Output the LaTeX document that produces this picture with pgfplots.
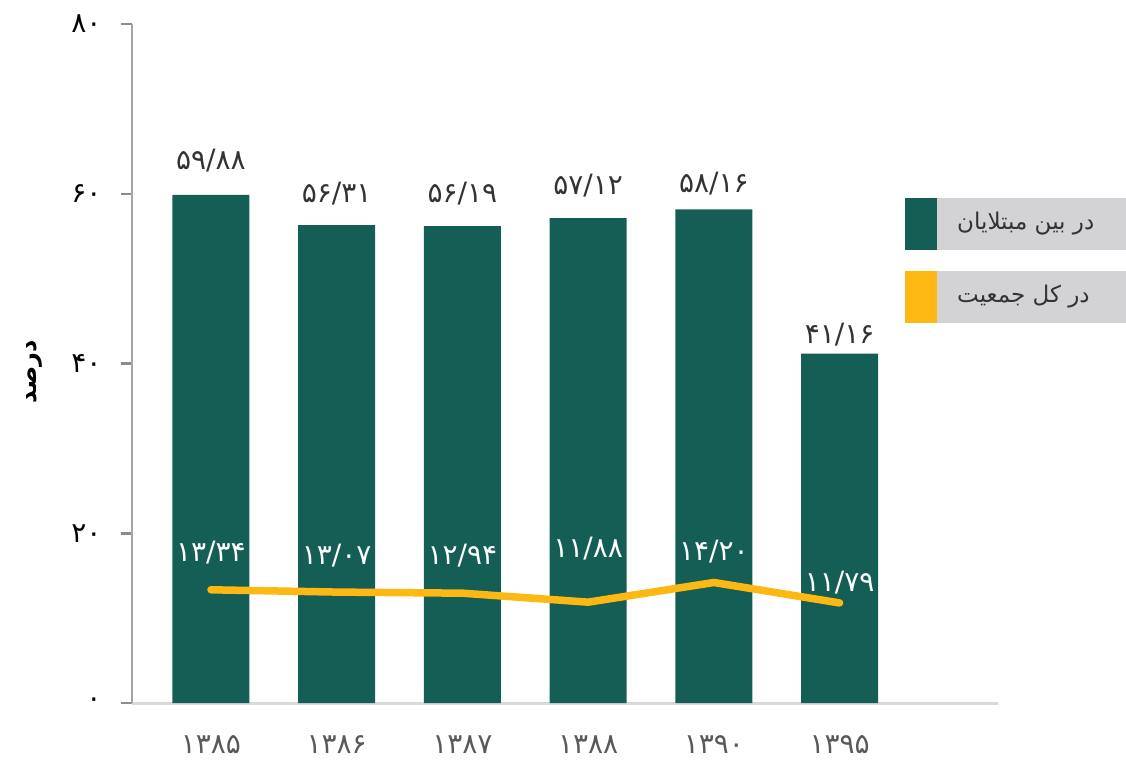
\documentclass[border=0pt]{standalone}
\usepackage{pgfplots}
\pgfplotsset{compat=1.18}
\usepackage{fontspec}
\TeXXeTstate=1
\newfontfamily\pfont[Script=Arabic]{DejaVu Sans}
\newfontfamily\pfontb[Script=Arabic]{DejaVu Sans Bold}
\definecolor{barc}{HTML}{155E56}
\definecolor{linec}{HTML}{FDB813}
\definecolor{legbg}{HTML}{D3D3D5}
\definecolor{labc}{HTML}{333333}
\definecolor{xlabc}{HTML}{595959}
\newcommand\numfont{\pfont\fontsize{28}{32}\selectfont}
\newcommand\tickfont{\pfont\fontsize{28}{32}\selectfont}
\newcommand\legfont{\pfont\fontsize{23}{27}\selectfont}
\begin{document}
\begin{tikzpicture}[x=1pt,y=1pt]
\begin{axis}[
  at={(132pt,-703pt)}, anchor=south west,
  scale only axis, width=866pt, height=679pt,
  xmin=-0.628, xmax=6.26, ymin=0, ymax=80,
  axis lines*=left,
  axis line style={-},
  x axis line style={draw=black!15, line width=3pt},
  y axis line style={draw=black!35, line width=2.5pt},
  xtick={0,1,2,3,4,5},
  xticklabels={۱۳۸۵,۱۳۸۶,۱۳۸۷,۱۳۸۸,۱۳۹۰,۱۳۹۵},
  xtick style={draw=none},
  xticklabel style={font=\tickfont, text=xlabc, yshift=-18pt},
  ytick={0,20,40,60,80},
  yticklabels={۰,۲۰,۴۰,۶۰,۸۰},
  tick align=outside,
  major tick length=11pt,
  ytick style={draw=black!45, line width=2.5pt},
  yticklabel style={font=\tickfont, text=black, xshift=-16pt},
  ylabel={\pfontb\fontsize{24}{28}\selectfont\beginR درصد\endR},
  every axis y label/.style={at={(axis description cs:0,0.5)}, xshift=-98pt, yshift=-8pt, rotate=90, anchor=center},
  clip=false,
]
% bars: در بین مبتلایان
\addplot[ybar, bar width=77pt, fill=barc, draw=none] coordinates {
  (0,59.88) (1,56.31) (2,56.19) (3,57.12) (4,58.16) (5,41.16)};
% line: در کل جمعیت
\addplot[linec, line width=7.5pt, line cap=round, line join=round, mark=none] coordinates {
  (0,13.34) (1,13.07) (2,12.94) (3,11.88) (4,14.20) (5,11.79)};
% bar value labels
\addplot[draw=none, mark=none, nodes near coords, point meta=explicit symbolic,
  every node near coord/.append style={anchor=center, font=\numfont, text=labc}] coordinates {
  (0,63.86) [۵۹/۸۸]
  (1,59.97) [۵۶/۳۱]
  (2,59.97) [۵۶/۱۹]
  (3,60.91) [۵۷/۱۲]
  (4,61.15) [۵۸/۱۶]
  (5,43.36) [۴۱/۱۶]};
% line value labels
\addplot[draw=none, mark=none, nodes near coords, point meta=explicit symbolic,
  every node near coord/.append style={anchor=center, font=\numfont, text=white}] coordinates {
  (0,17.67) [۱۳/۳۴]
  (1,17.32) [۱۳/۰۷]
  (2,17.32) [۱۲/۹۴]
  (3,18.14) [۱۱/۸۸]
  (4,17.79) [۱۴/۲۰]
  (5,14.14) [۱۱/۷۹]};
\end{axis}
% legend
\fill[legbg] (905,-198) rectangle (1126,-250);
\fill[barc] (905,-198) rectangle (937,-250);
\node[anchor=west, font=\legfont, text=labc, inner sep=0pt] at (957,-224) {\beginR در بین مبتلایان\endR};
\fill[legbg] (905,-271) rectangle (1126,-323);
\fill[linec] (905,-271) rectangle (937,-323);
\node[anchor=west, font=\legfont, text=labc, inner sep=0pt] at (957,-297) {\beginR در کل جمعیت\endR};
\pgfresetboundingbox
\useasboundingbox (0,0) rectangle (1126,-760);
\end{tikzpicture}
\end{document}
